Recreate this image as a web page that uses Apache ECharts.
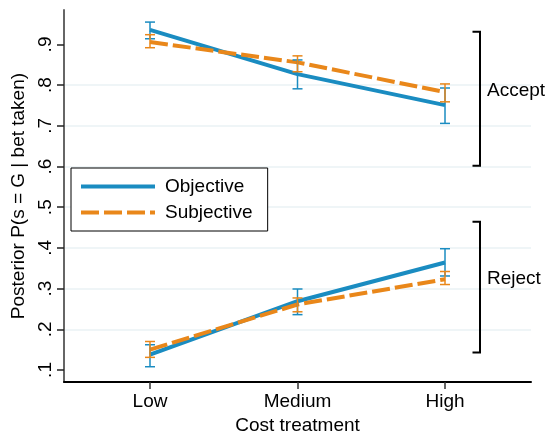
<!DOCTYPE html>
<html>
<head>
<meta charset="utf-8">
<script src="https://cdn.jsdelivr.net/npm/echarts@6/dist/echarts.min.js"></script>
<style>
  html, body { margin: 0; padding: 0; background: #fff; }
  #chart { width: 547px; height: 440px; }
</style>
</head>
<body>
<div id="chart"></div>
<script>
// categories and their positions on the x axis
const categories = ['Low', 'Medium', 'High'];
const xPos = [1, 2, 3];
const yTicks = [0.1, 0.2, 0.3, 0.4, 0.5, 0.6, 0.7, 0.8, 0.9];

// Accept group: mean and 95% CI
const objAccept = [0.936, 0.827, 0.751];
const objAcceptLo = [0.914, 0.791, 0.706];
const objAcceptHi = [0.955, 0.862, 0.793];
const subAccept = [0.906, 0.856, 0.783];
const subAcceptLo = [0.892, 0.833, 0.759];
const subAcceptHi = [0.924, 0.872, 0.803];

// Reject group
const objReject = [0.138, 0.269, 0.364];
const objRejectLo = [0.108, 0.236, 0.331];
const objRejectHi = [0.162, 0.299, 0.398];
const subReject = [0.150, 0.261, 0.323];
const subRejectLo = [0.131, 0.243, 0.310];
const subRejectHi = [0.170, 0.277, 0.342];

// bracket annotations (data coords)
const bracketX = 3.237;
const acceptSpan = [0.931, 0.602];
const rejectSpan = [0.464, 0.143];

const BLUE = '#1a8cc1';
const ORANGE = '#e9871a';
const DASH = [18, 5];
const FONT = "'Liberation Sans', Arial, Helvetica, sans-serif";

const toPoints = (vals) => xPos.map((x, i) => [x, vals[i]]);
const toBars = (lo, hi) => xPos.map((x, i) => [x, lo[i], hi[i]]);

// error bar with caps
function errorBar(params, api) {
  const x = api.value(0);
  const lo = api.coord([x, api.value(1)]);
  const hi = api.coord([x, api.value(2)]);
  const half = 5;
  const style = { stroke: api.visual('color'), lineWidth: 1.5, fill: null };
  return {
    type: 'group',
    children: [
      { type: 'line', shape: { x1: lo[0], y1: lo[1], x2: hi[0], y2: hi[1] }, style: style },
      { type: 'line', shape: { x1: lo[0] - half, y1: lo[1], x2: lo[0] + half, y2: lo[1] }, style: style },
      { type: 'line', shape: { x1: hi[0] - half, y1: hi[1], x2: hi[0] + half, y2: hi[1] }, style: style }
    ]
  };
}

const lineSeries = (name, vals, color, dashed) => ({
  name: name,
  type: 'line',
  data: toPoints(vals),
  symbol: 'none',
  color: color,
  lineStyle: { width: 4, color: color, type: dashed ? DASH : 'solid' },
  z: dashed ? 3 : 2,
  animation: false
});

const barSeries = (name, lo, hi, color) => ({
  name: name,
  type: 'custom',
  renderItem: errorBar,
  data: toBars(lo, hi),
  itemStyle: { color: color },
  z: 4,
  animation: false
});

const chart = echarts.init(document.getElementById('chart'));

const option = {
  backgroundColor: '#fff',
  animation: false,
  textStyle: { fontFamily: FONT },
  grid: { left: 64, right: 16, top: 10, bottom: 52 },
  legend: {
    data: [
      { name: 'Objective', lineStyle: { color: BLUE, width: 4, type: 'solid' } },
      { name: 'Subjective', lineStyle: { color: ORANGE, width: 4, type: DASH } }
    ],
    orient: 'vertical',
    left: 71,
    top: 168,
    itemWidth: 74,
    itemHeight: 14,
    itemGap: 7,
    padding: [9, 15, 9, 8],
    borderColor: '#000',
    borderWidth: 1,
    backgroundColor: '#fff',
    itemStyle: { opacity: 0, borderWidth: 0 },
    lineStyle: { width: 4 },
    textStyle: { fontSize: 19, color: '#000', fontFamily: FONT, padding: [0, 0, 0, 5] }
  },
  xAxis: {
    type: 'value',
    min: 0.417,
    max: 3.583,
    name: 'Cost treatment',
    nameLocation: 'middle',
    nameGap: 32,
    nameTextStyle: { fontSize: 19, color: '#000', fontFamily: FONT },
    splitLine: { show: false },
    axisLine: { lineStyle: { color: '#000', width: 2 } },
    axisTick: { customValues: xPos, length: 7, lineStyle: { color: '#333', width: 1.5 } },
    axisLabel: {
      customValues: xPos,
      margin: 10,
      fontSize: 19,
      color: '#000',
      fontFamily: FONT,
      formatter: (v) => categories[xPos.indexOf(Math.round(v))] || ''
    }
  },
  yAxis: {
    type: 'value',
    min: 0.0702,
    max: 0.9847,
    splitNumber: 9,
    name: 'Posterior P(s = G | bet taken)',
    nameLocation: 'middle',
    nameGap: 33,
    nameTextStyle: { fontSize: 19, color: '#000', fontFamily: FONT },
    axisLine: { show: true, lineStyle: { color: '#666', width: 2 } },
    axisTick: { show: true, customValues: yTicks, length: 7, lineStyle: { color: '#222', width: 1.5 } },
    splitLine: { show: true, showMinLine: false, showMaxLine: false, lineStyle: { color: '#eaf2f4', width: 1.5 } },
    axisLabel: {
      customValues: yTicks,
      rotate: 90,
      margin: 9,
      fontSize: 19,
      color: '#000',
      fontFamily: FONT,
      formatter: (v) => v.toFixed(1).replace(/^0/, '')
    }
  },
  series: [
    lineSeries('Objective', objAccept, BLUE, false),
    lineSeries('Objective', objReject, BLUE, false),
    lineSeries('Subjective', subAccept, ORANGE, true),
    lineSeries('Subjective', subReject, ORANGE, true),
    barSeries('ci-obj-accept', objAcceptLo, objAcceptHi, BLUE),
    barSeries('ci-obj-reject', objRejectLo, objRejectHi, BLUE),
    barSeries('ci-sub-accept', subAcceptLo, subAcceptHi, ORANGE),
    barSeries('ci-sub-reject', subRejectLo, subRejectHi, ORANGE)
  ]
};

chart.setOption(option);

// brackets with group labels, placed in data coordinates
function bracket(span, label) {
  const top = chart.convertToPixel({ gridIndex: 0 }, [bracketX, span[0]]);
  const bot = chart.convertToPixel({ gridIndex: 0 }, [bracketX, span[1]]);
  const x = Math.round(top[0]);
  return [
    {
      type: 'polyline',
      shape: { points: [[x - 7.5, top[1]], [x, top[1]], [x, bot[1]], [x - 7.5, bot[1]]] },
      style: { stroke: '#000', lineWidth: 2, fill: null },
      z: 10
    },
    {
      type: 'text',
      x: x + 7,
      y: (top[1] + bot[1]) / 2 - 8,
      style: { text: label, font: '19px ' + FONT, fill: '#000', verticalAlign: 'middle' },
      z: 10
    }
  ];
}

chart.setOption({
  graphic: bracket(acceptSpan, 'Accept').concat(bracket(rejectSpan, 'Reject'))
});
</script>
</body>
</html>
